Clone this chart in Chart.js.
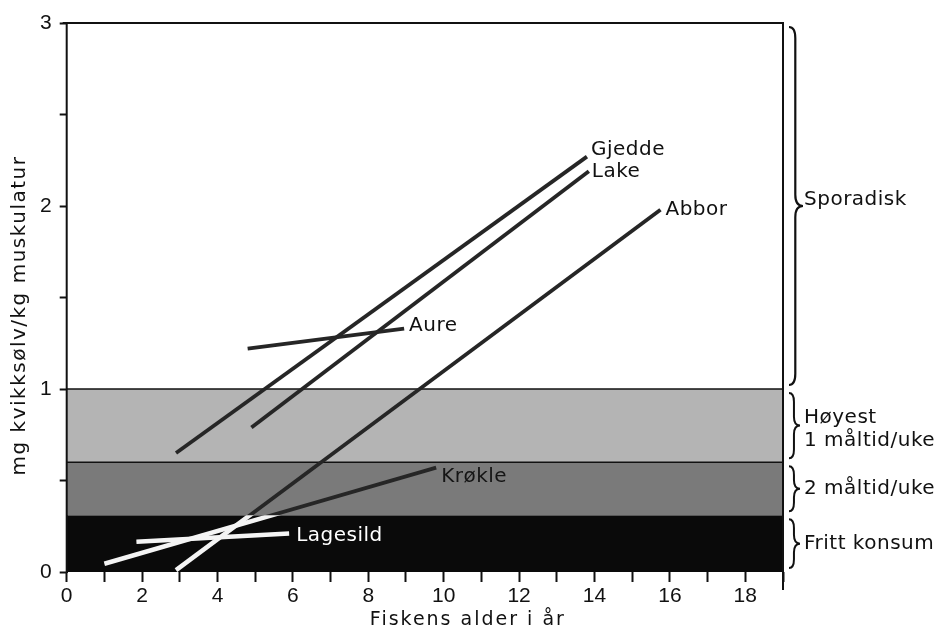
<!DOCTYPE html>
<html>
<head>
<meta charset="utf-8">
<script src="https://cdn.jsdelivr.net/npm/chart.js@4.4.1/dist/chart.umd.min.js"></script>
<style>
  html, body { margin: 0; padding: 0; background: #fff; }
  canvas { display: block; }
</style>
</head>
<body>
<canvas id="chart" width="943" height="630"></canvas>
<script>
// Artene og linjene (alder i år, mg kvikksølv/kg)
const arter = ['Gjedde', 'Lake', 'Abbor', 'Aure', 'Krøkle', 'Lagesild'];
const gjeddeAlder = [2.9, 13.8];
const gjeddeHg = [0.65, 2.27];
const lakeAlder = [4.9, 13.85];
const lakeHg = [0.79, 2.19];
const abborAlder = [2.9, 15.75];
const abborHg = [0.01, 1.98];
const aureAlder = [4.8, 8.95];
const aureHg = [1.22, 1.33];
const krokleAlder = [1.0, 9.8];
const krokleHg = [0.045, 0.57];
const lagesildAlder = [1.85, 5.9];
const lagesildHg = [0.165, 0.21];

// Konsumgrenser (bånd)
const baandFra = [0, 0.31, 0.6, 1];
const baandTil = [0.31, 0.6, 1, 3];
const baandTekst = [['Fritt konsum'], ['2 måltid/uke'], ['Høyest', '1 måltid/uke'], ['Sporadisk']];

// Akseetiketter
const alderEtiketter = [0, 2, 4, 6, 8, 10, 12, 14, 16, 18];
const hgEtiketter = [0, 1, 2, 3];
const xTittel = 'Fiskens alder i år';
const yTittel = 'mg kvikksølv/kg muskulatur';

const FONT = "'DejaVu Sans', Verdana, sans-serif";
const TALL_FONT = "'Liberation Sans', Arial, sans-serif";
const baandFarge = ['#0a0a0a', '#7a7a7a', '#b4b4b4', '#ffffff'];

const serier = [
  [gjeddeAlder, gjeddeHg],
  [lakeAlder, lakeHg],
  [abborAlder, abborHg],
  [aureAlder, aureHg],
  [krokleAlder, krokleHg],
  [lagesildAlder, lagesildHg]
];

// forskyvning av navnet fra linjens endepunkt
const navnForskyvning = [[4, -7], [3, 1], [5, 0], [5, -3], [5, 9], [7, 2]];
const navnFarge = ['#111', '#111', '#111', '#111', '#151515', '#fff'];

function tegnKlamme(ctx, x, y1, y2, w) {
  const ym = (y1 + y2) / 2;
  const q = Math.min(w * 0.8, (y2 - y1) / 5);
  const xm = x + w * 0.45;
  ctx.beginPath();
  ctx.moveTo(x, y1);
  ctx.quadraticCurveTo(xm, y1, xm, y1 + q);
  ctx.lineTo(xm, ym - q);
  ctx.quadraticCurveTo(xm, ym, x + w, ym);
  ctx.quadraticCurveTo(xm, ym, xm, ym + q);
  ctx.lineTo(xm, y2 - q);
  ctx.quadraticCurveTo(xm, y2, x, y2);
  ctx.stroke();
}

const baandPlugin = {
  id: 'baand',
  beforeDatasetsDraw(chart) {
    const { ctx, chartArea: a, scales: { y } } = chart;
    ctx.save();
    baandFra.forEach((fra, i) => {
      const yTop = y.getPixelForValue(baandTil[i]);
      const yBot = y.getPixelForValue(fra);
      ctx.fillStyle = baandFarge[i];
      ctx.fillRect(a.left, yTop, a.right - a.left, yBot - yTop);
    });
    // skillelinjer
    ctx.strokeStyle = '#111';
    ctx.lineWidth = 1.5;
    [baandTil[1], baandTil[2]].forEach(v => {
      const py = y.getPixelForValue(v);
      ctx.beginPath();
      ctx.moveTo(a.left, py);
      ctx.lineTo(a.right, py);
      ctx.stroke();
    });
    ctx.restore();
  },
  afterDatasetsDraw(chart) {
    const { ctx, chartArea: a, scales: { y } } = chart;
    // linjene blir hvite i det svarte båndet
    const yTop = y.getPixelForValue(baandTil[0]);
    ctx.save();
    ctx.beginPath();
    ctx.rect(a.left, yTop, a.right - a.left, a.bottom - yTop);
    ctx.clip();
    ctx.strokeStyle = '#f4f4f4';
    ctx.lineWidth = 4.5;
    chart.data.datasets.forEach((ds, i) => {
      const pts = chart.getDatasetMeta(i).data;
      ctx.beginPath();
      pts.forEach((p, k) => (k ? ctx.lineTo(p.x, p.y) : ctx.moveTo(p.x, p.y)));
      ctx.stroke();
    });
    ctx.restore();

    // navn ved linjene
    ctx.save();
    ctx.font = '20px ' + FONT;
    ctx.letterSpacing = '0.5px';
    ctx.textBaseline = 'middle';
    ctx.textAlign = 'left';
    chart.data.datasets.forEach((ds, i) => {
      const pts = chart.getDatasetMeta(i).data;
      const p = pts[pts.length - 1];
      ctx.fillStyle = navnFarge[i];
      ctx.fillText(ds.label, p.x + navnForskyvning[i][0], p.y + navnForskyvning[i][1]);
    });
    ctx.restore();
  },
  afterDraw(chart) {
    const { ctx, chartArea: a, scales: { y } } = chart;
    ctx.save();
    // ramme
    ctx.strokeStyle = '#111';
    ctx.lineWidth = 2;
    ctx.beginPath();
    ctx.moveTo(a.left - 4, a.top);
    ctx.lineTo(a.right, a.top);
    ctx.lineTo(a.right, a.bottom + 18);
    ctx.moveTo(a.left, a.top);
    ctx.lineTo(a.left, a.bottom);
    ctx.stroke();

    // klammer og tekst til høyre
    ctx.font = '20px ' + FONT;
    ctx.letterSpacing = '0.5px';
    ctx.fillStyle = '#111';
    ctx.textBaseline = 'middle';
    ctx.textAlign = 'left';
    baandFra.forEach((fra, i) => {
      const y1 = y.getPixelForValue(baandTil[i]) + 4;
      const y2 = y.getPixelForValue(fra) - 4;
      ctx.lineWidth = i === 3 ? 2.2 : 2;
      tegnKlamme(ctx, a.right + 6, y1, y2, i === 3 ? 14 : 11);
      const linjer = baandTekst[i];
      const ym = (y1 + y2) / 2 + (i === 3 ? -6 : (i === 2 ? 4 : 0));
      linjer.forEach((t, k) => {
        ctx.fillText(t, a.right + 21, ym + (k - (linjer.length - 1) / 2) * 23);
      });
    });

    // aksetitler
    ctx.font = '19px ' + FONT;
    ctx.letterSpacing = '2px';
    ctx.textAlign = 'center';
    ctx.fillText(xTittel, (a.left + a.right) / 2 + 43, 620);
    ctx.font = '20px ' + FONT;
    ctx.letterSpacing = '1.5px';
    ctx.translate(20, (a.top + a.bottom) / 2 + 18);
    ctx.rotate(-Math.PI / 2);
    ctx.fillText(yTittel, 0, 0);
    ctx.restore();
  }
};

new Chart(document.getElementById('chart'), {
  type: 'scatter',
  data: {
    datasets: arter.map((navn, i) => ({
      label: navn,
      data: serier[i][0].map((x, k) => ({ x: x, y: serier[i][1][k] })),
      showLine: true,
      borderColor: '#262626',
      borderWidth: 3.8,
      borderCapStyle: 'butt',
      pointRadius: 0,
      fill: false
    }))
  },
  options: {
    responsive: false,
    animation: false,
    layout: { padding: { left: 4, right: 160, top: 23, bottom: 0 } },
    plugins: { legend: { display: false }, tooltip: { enabled: false } },
    scales: {
      x: {
        type: 'linear',
        min: 0,
        max: 19,
        afterFit(s) { s.height = 58; },
        border: { display: false },
        grid: { drawOnChartArea: false, drawTicks: true, tickLength: 10, tickWidth: 2, tickColor: '#111' },
        ticks: {
          stepSize: 1,
          autoSkip: false,
          maxRotation: 0,
          padding: 2,
          color: '#111',
          font: { family: TALL_FONT, size: 21 },
          callback: v => (alderEtiketter.includes(v) ? String(v) : '')
        }
      },
      y: {
        type: 'linear',
        min: 0,
        max: 3,
        afterFit(s) { s.width = 62.7; },
        border: { display: true, color: '#111', width: 2 },
        grid: { drawOnChartArea: false, drawTicks: true, tickLength: 7, tickWidth: 2, tickColor: '#111' },
        ticks: {
          stepSize: 0.5,
          autoSkip: false,
          padding: 8,
          color: '#111',
          font: { family: TALL_FONT, size: 21 },
          callback: v => (hgEtiketter.includes(v) ? String(v) : '')
        }
      }
    }
  },
  plugins: [baandPlugin]
});
</script>
</body>
</html>
